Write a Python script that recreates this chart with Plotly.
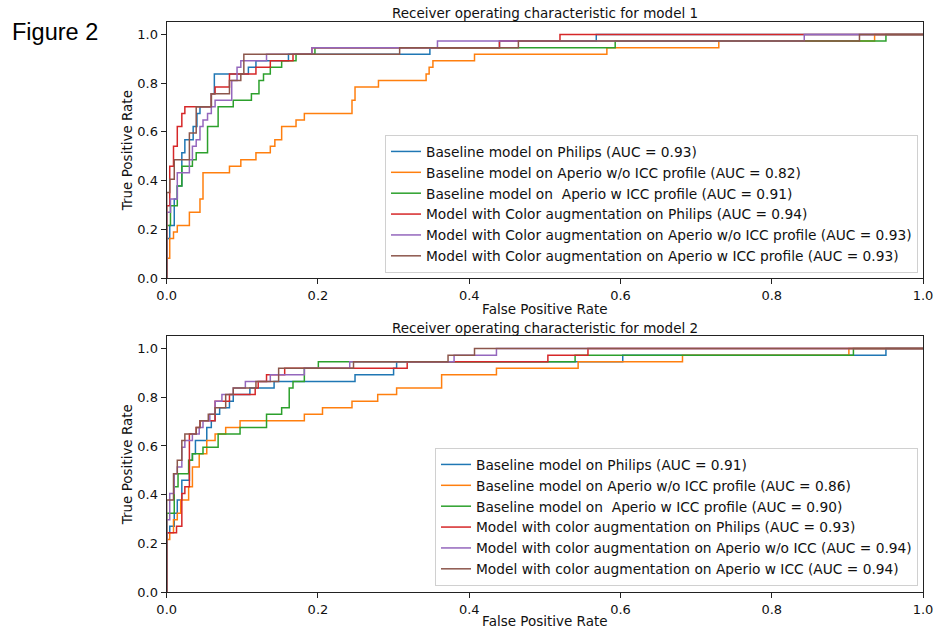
import plotly.graph_objects as go

# ---------------- data ----------------
labels_1 = [
    "Baseline model on Philips (AUC = 0.93)",
    "Baseline model on Aperio w/o ICC profile (AUC = 0.82)",
    "Baseline model on  Aperio w ICC profile (AUC = 0.91)",
    "Model with Color augmentation on Philips (AUC = 0.94)",
    "Model with Color augmentation on Aperio w/o ICC profile (AUC = 0.93)",
    "Model with Color augmentation on Aperio w ICC profile (AUC = 0.93)",
]
labels_2 = [
    "Baseline model on Philips (AUC = 0.91)",
    "Baseline model on Aperio w/o ICC profile (AUC = 0.86)",
    "Baseline model on  Aperio w ICC profile (AUC = 0.90)",
    "Model with color augmentation on Philips (AUC = 0.93)",
    "Model with color augmentation on Aperio w/o ICC (AUC = 0.94)",
    "Model with color augmentation on Aperio w ICC (AUC = 0.94)",
]

# model 1
blue1_fpr = [0, 0, 0.004, 0.010, 0.014, 0.020, 0.024, 0.035, 0.040, 0.044, 0.059, 0.063, 0.108, 0.118, 0.161, 0.348, 0.44, 0.568, 1.0]
blue1_tpr = [0, .162, .216, .324, .378, .514, .568, .622, .676, .703, .757, .838, .865, .892, .919, .946, .973, 1.0, 1.0]
orange1_fpr = [0, 0, 0.004, 0.009, 0.014, 0.030, 0.044, 0.048, 0.083, 0.098, 0.118, 0.137, 0.143, 0.152, 0.171, 0.182, 0.245, 0.249, 0.280, 0.343, 0.347, 0.352, 0.407, 0.582, 0.730, 0.936, 1.0]
orange1_tpr = [0, .081, .162, .189, .216, .270, .324, .432, .459, .486, .514, .541, .568, .622, .649, .676, .730, .784, .811, .838, .865, .892, .919, .946, .973, 1.0, 1.0]
green1_fpr = [0, 0, 0.005, 0.014, 0.020, 0.034, 0.039, 0.054, 0.068, 0.088, 0.112, 0.122, 0.128, 0.137, 0.152, 0.171, 0.196, 0.593, 0.951, 1.0]
green1_tpr = [0, .216, .297, .378, .459, .486, .514, .622, .703, .730, .757, .811, .838, .865, .892, .919, .946, .973, 1.0, 1.0]
red1_fpr = [0, 0, 0.004, 0.009, 0.014, 0.020, 0.024, 0.059, 0.064, 0.083, 0.118, 0.137, 0.167, 0.192, 0.44, 0.52, 1.0]
red1_tpr = [0, .297, .459, .541, .622, .676, .703, .757, .784, .838, .865, .892, .919, .946, .973, 1.0, 1.0]
purple1_fpr = [0, 0, 0.005, 0.014, 0.030, 0.034, 0.039, 0.044, 0.048, 0.054, 0.059, 0.064, 0.086, 0.093, 0.098, 0.132, 0.192, 0.358, 0.843, 1.0]
purple1_tpr = [0, .270, .324, .432, .486, .541, .568, .622, .649, .676, .703, .730, .811, .865, .892, .919, .946, .973, 1.0, 1.0]
brown1_fpr = [0, 0, 0.004, 0.010, 0.030, 0.039, 0.059, 0.083, 0.098, 0.102, 0.308, 0.465, 0.916, 1.0]
brown1_tpr = [0, .351, .405, .486, .595, .703, .757, .811, .838, .919, .946, .973, 1.0, 1.0]

# model 2
blue2_fpr = [0, 0, 0.004, 0.010, 0.014, 0.020, 0.030, 0.034, 0.038, 0.053, 0.059, 0.064, 0.070, 0.083, 0.088, 0.110, 0.142, 0.249, 0.300, 0.304, 0.603, 0.951, 1.0]
blue2_tpr = [0, .243, .270, .324, .378, .459, .541, .568, .622, .676, .703, .730, .757, .784, .811, .838, .865, .892, .919, .946, .973, 1.0, 1.0]
orange2_fpr = [0, 0, 0.004, 0.009, 0.014, 0.0185, 0.029, 0.034, 0.043, 0.053, 0.064, 0.078, 0.097, 0.182, 0.206, 0.245, 0.279, 0.304, 0.3635, 0.436, 0.544, 0.682, 0.902, 1.0]
orange2_tpr = [0, .216, .243, .297, .324, .378, .432, .514, .568, .622, .649, .676, .703, .730, .757, .784, .811, .838, .892, .919, .946, .973, 1.0, 1.0]
green2_fpr = [0, 0, 0.010, 0.015, 0.029, 0.034, 0.048, 0.068, 0.097, 0.132, 0.152, 0.162, 0.167, 0.182, 0.2005, 0.540, 0.908, 1.0]
green2_tpr = [0, .324, .432, .486, .541, .568, .595, .649, .676, .730, .757, .838, .865, .919, .946, .973, 1.0, 1.0]
red2_fpr = [0, 0, 0.013, 0.020, 0.024, 0.030, 0.039, 0.044, 0.064, 0.083, 0.117, 0.121, 0.132, 0.156, 0.318, 0.504, 0.557, 1.0]
red2_tpr = [0, .243, .270, .405, .432, .649, .676, .703, .784, .811, .838, .865, .892, .919, .946, .973, 1.0, 1.0]
purple2_fpr = [0, 0, 0.004, 0.010, 0.014, 0.020, 0.024, 0.034, 0.043, 0.048, 0.057, 0.064, 0.073, 0.088, 0.104, 0.137, 0.182, 0.242, 0.38, 0.436, 1.0]
purple2_tpr = [0, .297, .405, .486, .514, .595, .622, .649, .676, .703, .730, .784, .811, .838, .865, .892, .919, .946, .973, 1.0, 1.0]
brown2_fpr = [0, 0, 0.009, 0.014, 0.020, 0.024, 0.039, 0.044, 0.055, 0.064, 0.078, 0.088, 0.118, 0.148, 0.247, 0.372, 0.407, 1.0]
brown2_tpr = [0, .378, .486, .541, .622, .649, .676, .703, .730, .757, .811, .838, .865, .919, .946, .973, 1.0, 1.0]

tick_vals = [0.0, 0.2, 0.4, 0.6, 0.8, 1.0]
tick_text = ["0.0", "0.2", "0.4", "0.6", "0.8", "1.0"]

colors = ["#1f77b4", "#ff7f0e", "#2ca02c", "#d62728", "#9467bd", "#8c564b"]

curves_1 = [(blue1_fpr, blue1_tpr), (orange1_fpr, orange1_tpr), (green1_fpr, green1_tpr),
            (red1_fpr, red1_tpr), (purple1_fpr, purple1_tpr), (brown1_fpr, brown1_tpr)]
curves_2 = [(blue2_fpr, blue2_tpr), (orange2_fpr, orange2_tpr), (green2_fpr, green2_tpr),
            (red2_fpr, red2_tpr), (purple2_fpr, purple2_tpr), (brown2_fpr, brown2_tpr)]

# ---------------- figure ----------------
W, H = 934, 629
FONT = "DejaVu Sans"
fig = go.Figure()

for (fx, ty), lab, col in zip(curves_1, labels_1, colors):
    fig.add_trace(go.Scatter(x=fx, y=ty, mode="lines", name=lab, line=dict(color=col, width=1.5, shape="hv"),
                             xaxis="x", yaxis="y", legend="legend"))
for (fx, ty), lab, col in zip(curves_2, labels_2, colors):
    fig.add_trace(go.Scatter(x=fx, y=ty, mode="lines", name=lab, line=dict(color=col, width=1.5, shape="hv"),
                             xaxis="x2", yaxis="y2", legend="legend2"))

x0, x1 = 166.7 / W, 923 / W
top_dom = [1 - 278 / H, 1 - 22.3 / H]
bot_dom = [1 - 592 / H, 1 - 336.4 / H]

axis_common = dict(showline=True, mirror=True, linecolor="#222", linewidth=1.2, ticks="outside", ticklen=5,
                   tickcolor="#222", tickwidth=1, showgrid=False, zeroline=False, automargin=False,
                   tickfont=dict(family=FONT, size=13, color="#111"),
                   tickvals=tick_vals, ticktext=tick_text)
title_font = dict(family=FONT, size=13.5, color="#111")

fig.update_layout(
    width=W, height=H, autosize=False, margin=dict(l=0, r=0, t=0, b=0, pad=0),
    paper_bgcolor="white", plot_bgcolor="white",
    font=dict(family=FONT, size=13, color="#111"),
    xaxis=dict(domain=[x0, x1], range=[0, 1], anchor="y",
               title=dict(text="False Positive Rate", font=title_font, standoff=2), **axis_common),
    yaxis=dict(domain=top_dom, range=[0, 1.05], anchor="x",
               title=dict(text="True Positive Rate", font=title_font, standoff=1), **axis_common),
    xaxis2=dict(domain=[x0, x1], range=[0, 1], anchor="y2",
                title=dict(text="False Positive Rate", font=title_font, standoff=2), **axis_common),
    yaxis2=dict(domain=bot_dom, range=[0, 1.05], anchor="x2",
                title=dict(text="True Positive Rate", font=title_font, standoff=1), **axis_common),
    legend=dict(x=918 / W, y=1 - 273 / H, xanchor="right", yanchor="bottom",
                bgcolor="rgba(255,255,255,0.8)", bordercolor="#d0d0d0", borderwidth=1,
                font=dict(family=FONT, size=13.75, color="#111"), itemwidth=30),
    legend2=dict(x=918 / W, y=1 - 586 / H, xanchor="right", yanchor="bottom",
                 bgcolor="rgba(255,255,255,0.8)", bordercolor="#d0d0d0", borderwidth=1,
                 font=dict(family=FONT, size=13.75, color="#111"), itemwidth=30),
    showlegend=True,
    annotations=[
        dict(text="Figure 2", x=10 / W, y=1 - 31.5 / H, xref="paper", yref="paper", xanchor="left", yanchor="middle",
             showarrow=False, font=dict(family="Liberation Sans", size=23.5, color="#000")),
        dict(text="Receiver operating characteristic for model 1", x=(x0 + x1) / 2, y=1 - 13 / H,
             xref="paper", yref="paper", xanchor="center", yanchor="middle", showarrow=False,
             font=dict(family=FONT, size=13.5, color="#111")),
        dict(text="Receiver operating characteristic for model 2", x=(x0 + x1) / 2, y=1 - 327.5 / H,
             xref="paper", yref="paper", xanchor="center", yanchor="middle", showarrow=False,
             font=dict(family=FONT, size=13.5, color="#111")),
    ],
)

fig.write_html(
    "out.html",
    post_script="document.documentElement.style.margin='0';document.body.style.margin='0';"
                "document.body.style.padding='0';document.body.style.overflow='hidden';",
)
